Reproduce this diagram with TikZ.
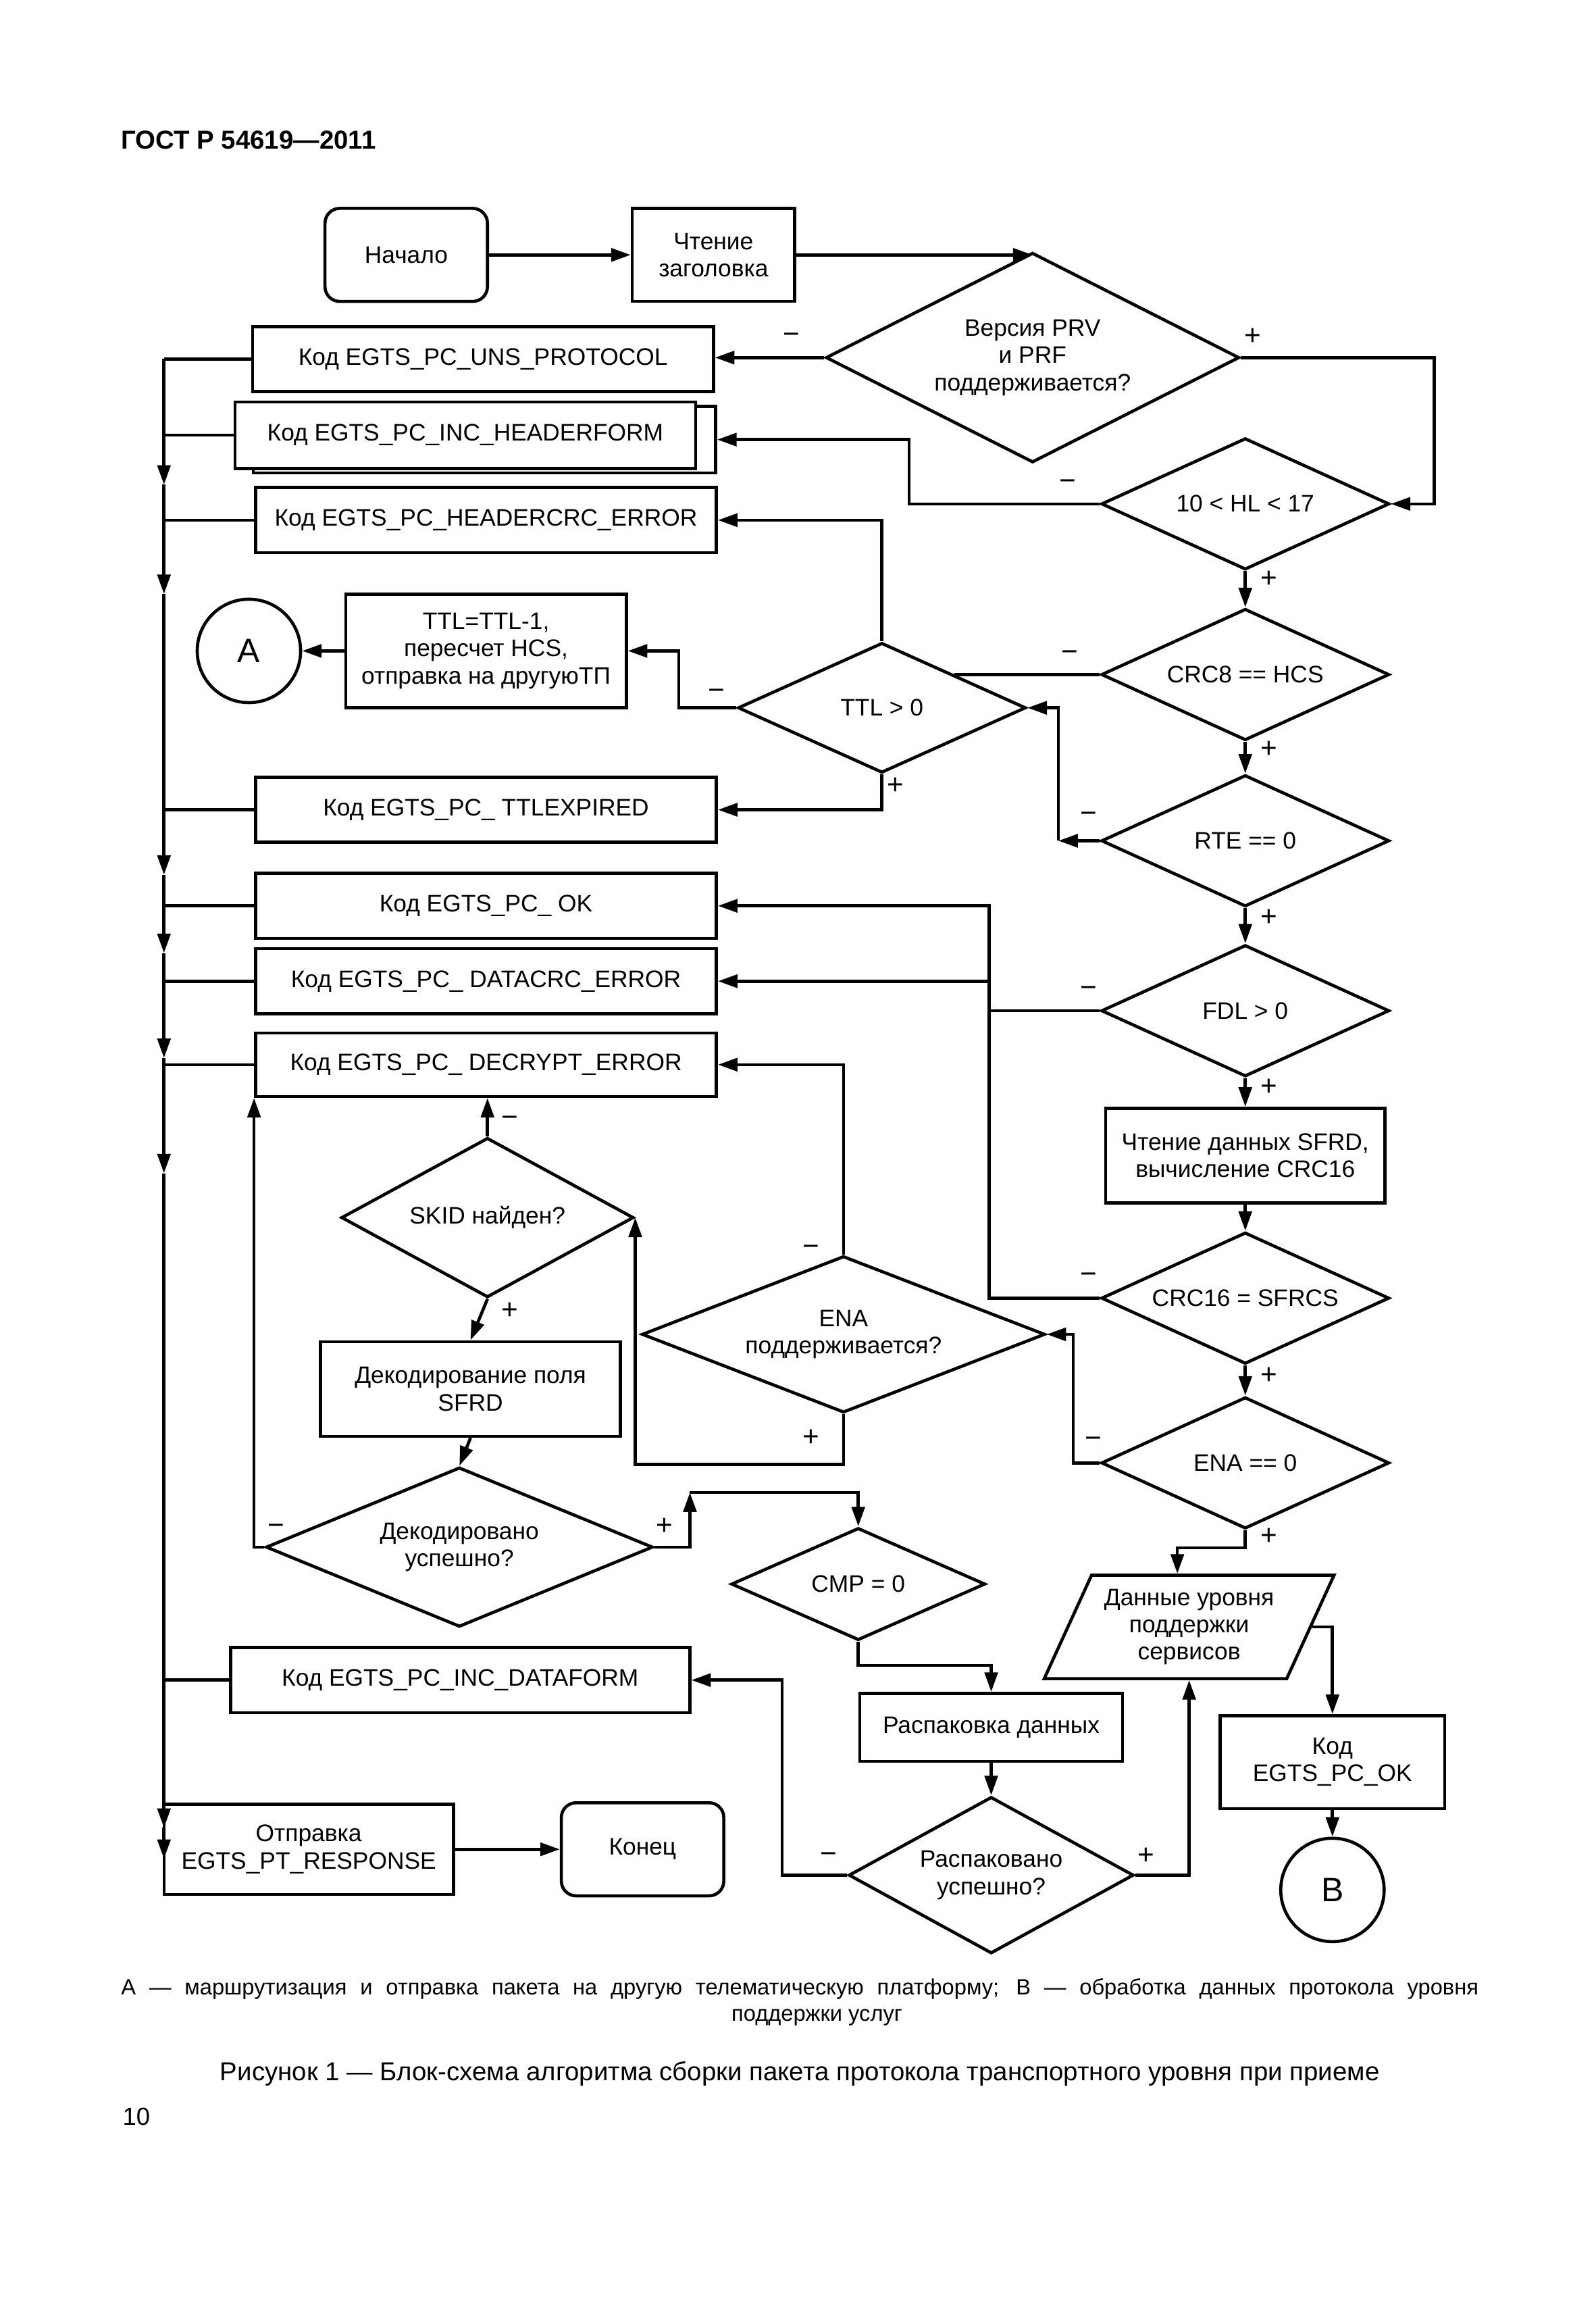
\documentclass[tikz,border=0pt]{standalone}
\usepackage{fontspec}
\setmainfont{Liberation Sans}
\usetikzlibrary{shapes.geometric,arrows.meta}

\begin{document}
\begin{tikzpicture}[x=0.02cm, y=-0.02cm, line width=1.2pt,
  every node/.style={font=\fontsize{9.2}{10.5}\selectfont, align=center},
  blok/.style={draw, inner sep=1pt, minimum width=6.24cm, minimum height=0.88cm},
  prjam/.style={draw, inner sep=1pt},
  term/.style={draw, rounded corners=0.2cm, minimum width=2.2cm, minimum height=1.26cm},
  romb/.style={diamond, draw, aspect=2.2, inner sep=0pt, minimum width=3.9cm, minimum height=1.78cm},
  krug/.style={circle, draw, minimum size=1.4cm, inner sep=0pt, font=\fontsize{13}{15}\selectfont},
  arr/.style={-{Triangle[length=7.5pt,width=5pt]}},
  sgn/.style={font=\fontsize{11}{12}\selectfont, inner sep=0pt}]
	\useasboundingbox (0,0) rectangle (1080,1566);
	\node[anchor=base west, inner sep=0pt, font=\fontsize{10}{12}\selectfont\bfseries] (gost) at (81,101) {ГОСТ Р 54619—2011};
	% verkhnyaya chast
	\node[term] (start) at (275,172.5) {Начало};
	\node[prjam, minimum width=2.2cm, minimum height=1.26cm] (readhdr) at (483,172.5) {Чтение\\заголовка};
	\node[romb, minimum width=5.6cm, minimum height=2.84cm] (prv) at (699,242) {Версия PRV\\и PRF\\поддерживается?};
	\node[blok] (uns) at (327,243) {Код EGTS\_PC\_UNS\_PROTOCOL};
	\node[blok, minimum width=6.26cm, minimum height=0.9cm] (hdrb) at (328,297.5) {};
	\node[blok, fill=white, minimum height=0.9cm] (hdr) at (315,294.5) {Код EGTS\_PC\_INC\_HEADERFORM};
	\node[blok] (hcrc) at (329,352) {Код EGTS\_PC\_HEADERCRC\_ERROR};
	\node[romb] (hl) at (843,341) {10 < HL < 17};
	\node[romb] (crc8) at (843,456.5) {CRC8 == HCS};
	\node[romb, minimum height=1.76cm] (ttl) at (597,479) {TTL > 0};
	\node[prjam, minimum width=3.8cm, minimum height=1.54cm] (ttlbox) at (329,440.5) {TTL=TTL-1,\\пересчет HCS,\\отправка на другуюТП};
	\node[krug] (ca) at (168.5,440.5) {А};
	\node[blok] (ttlx) at (329,548) {Код EGTS\_PC\_ TTLEXPIRED};
	\node[romb] (rte) at (843,569) {RTE == 0};
	\node[blok] (ok) at (329,613) {Код EGTS\_PC\_ OK};
	\node[blok] (dcrc) at (329,664) {Код EGTS\_PC\_ DATACRC\_ERROR};
	\node[romb] (fdl) at (843,684) {FDL > 0};
	\node[blok, minimum height=0.86cm] (decr) at (329,720.5) {Код EGTS\_PC\_ DECRYPT\_ERROR};
	% seredina
	\node[prjam, minimum width=3.78cm, minimum height=1.28cm] (sfrd) at (843,782) {Чтение данных SFRD,\\вычисление CRC16};
	\node[romb, minimum width=3.96cm, minimum height=2.16cm] (skid) at (330,824) {SKID найден?};
	\node[romb] (crc16) at (843,878.5) {CRC16 = SFRCS};
	\node[romb, minimum width=5.46cm, minimum height=2.12cm] (enas) at (571,903) {ENA\\поддерживается?};
	\node[prjam, minimum width=4.06cm, minimum height=1.28cm] (dcd) at (318.5,940) {Декодирование поля\\SFRD};
	\node[romb] (ena0) at (843,990) {ENA == 0};
	\node[romb, minimum width=5.24cm, minimum height=2.16cm] (dec) at (311,1047) {Декодировано\\успешно?};
	\node[romb, minimum width=3.44cm, minimum height=1.52cm] (cmp) at (581,1072) {CMP = 0};
	\node[trapezium, draw, trapezium left angle=61.5, trapezium right angle=118.5, trapezium stretches=true,
	  minimum width=3.96cm, minimum height=1.4cm, inner sep=0pt] (pd) at (805,1101) {Данные уровня\\поддержки\\сервисов};
	% nizhnyaya chast
	\node[blok, minimum width=6.22cm] (dform) at (311.5,1137) {Код EGTS\_PC\_INC\_DATAFORM};
	\node[prjam, minimum width=3.56cm, minimum height=0.92cm] (unpk) at (671,1169) {Распаковка данных};
	\node[prjam, minimum width=3.04cm, minimum height=1.26cm] (okb) at (902,1192.5) {Код\\EGTS\_PC\_OK};
	\node[romb, minimum width=3.86cm, minimum height=2.12cm] (unp) at (671,1269) {Распаковано\\успешно?};
	\node[krug] (cb) at (902,1279) {В};
	\node[prjam, minimum width=3.92cm, minimum height=1.22cm] (send) at (209,1251.5) {Отправка\\EGTS\_PT\_RESPONSE};
	\node[term] (fin) at (435,1251.5) {Конец};
	% perekhody
	\draw[arr] (start) -- (readhdr);
	\draw[arr] (readhdr.east) -- (readhdr.east -| prv.north);
	\draw[arr] (prv.west) -- (prv.west -| uns.east);
	\draw[arr] (prv.east) -- ++(131,0) |- (hl.east);
	\draw[arr] (hl.west) -- ++(-129,0) |- (hdrb.east);
	\draw[arr] (hl) -- (crc8);
	\draw (crc8.west) -- (crc8.west -| ttl.north east);
	\draw[arr] (ttl.north) |- (hcrc.east);
	\draw[arr] (ttl.west) -- ++(-39,0) |- (ttlbox.east);
	\draw[arr] (ttlbox) -- (ca);
	\draw[arr] (ttl.south) |- (ttlx.east);
	\draw[arr] (crc8) -- (rte);
	\draw[arr] (rte.west) -- ++(-28,0) coordinate (rtek);
	\draw[arr] (rtek) |- (ttl.east);
	\draw[arr] (rte) -- (fdl);
	\draw[arr] (fdl.west) -- ++(-75,0) |- (ok.east);
	\draw[arr] (crc16.west) -- ++(-75,0) |- (dcrc.east);
	\draw[arr] (fdl) -- (sfrd);
	\draw[arr] (sfrd) -- (crc16);
	\draw[arr] (crc16) -- (ena0);
	\draw[arr] (ena0.west) -- ++(-18,0) |- (enas.east);
	\draw[arr] (enas.north) |- (decr.east);
	\draw[arr] (enas.south) -- ++(0,34) -| (skid.east);
	\draw[arr] (skid.north) -- (skid.north |- decr.south);
	\draw[arr] (skid.south) -- (dcd.north);
	\draw[arr] (dcd.south) -- (dec.north);
	\draw[arr] (dec.west) -| (decr.south west);
	\draw[arr] (dec.east) -- ++(24,0) -- ++(0,-37) coordinate (deck);
	\draw[arr] (deck) -| (cmp.north);
	\draw[arr] (cmp.south) -- ++(0,16) -| (unpk.north);
	\draw[arr] (unpk) -- (unp);
	\draw[arr] (unp.west) -- ++(-44,0) |- (dform.east);
	\draw[arr] (unp.east) -| (pd.south);
	\draw[arr] (ena0.south) -- ++(0,12) -| ([xshift=-0.16cm]pd.north);
	\draw[arr] (pd.east) -| (okb.north);
	\draw[arr] (okb) -- (cb);
	\draw[arr] (send) -- (fin);
	% obshchaya shina sleva
	\coordinate (bus) at (111,0);
	\foreach \b in {uns,hdr,hcrc,ttlx,ok,dcrc,decr,dform}
		\draw (\b.west) -- (\b.west -| bus);
	\foreach \ya/\yb in {243/328,328/402,402/592,592/645,645/716,716/794,794/1237,1237/1258}
		\draw[arr] (111,\ya) -- (111,\yb);
	% znaki
	\foreach \x/\y/\s [count=\i] in {536/229/−, 848/228/+, 723/328/−, 859/392/+, 724/444/−, 859/507/+,
	  485/470/−, 606/532/+, 737/553/−, 859/621/+, 737/671/−, 859/736/+, 737/865/−, 859/931/+,
	  740/976/−, 859/1040/+, 549/846/−, 549/973/+, 345/759/−, 345/887/+, 187/1035/−, 450/1033/+,
	  561/1257/−, 776/1256/+}
		\node[sgn] (z\i) at (\x,\y) {\s};
	% podpisi
	\node[anchor=base west, inner sep=0pt, font=\fontsize{8.5}{10}\selectfont] (noteA) at (81,1350)
	  {\makebox[18.38cm][s]{А — маршрутизация и отправка пакета на другую телематическую платформу; В — обработка данных протокола уровня}};
	\node[anchor=base, inner sep=0pt, font=\fontsize{8.5}{10}\selectfont] (noteB) at (553,1368) {поддержки услуг};
	\node[anchor=base west, inner sep=0pt, font=\fontsize{10}{12}\selectfont] (cap) at (148,1408)
	  {\makebox[15.7cm][s]{Рисунок 1 — Блок-схема алгоритма сборки пакета протокола транспортного уровня при приеме}};
	\node[anchor=base west, inner sep=0pt, font=\fontsize{9.5}{11}\selectfont] (pg) at (82,1438) {10};
\end{tikzpicture}
\end{document}
